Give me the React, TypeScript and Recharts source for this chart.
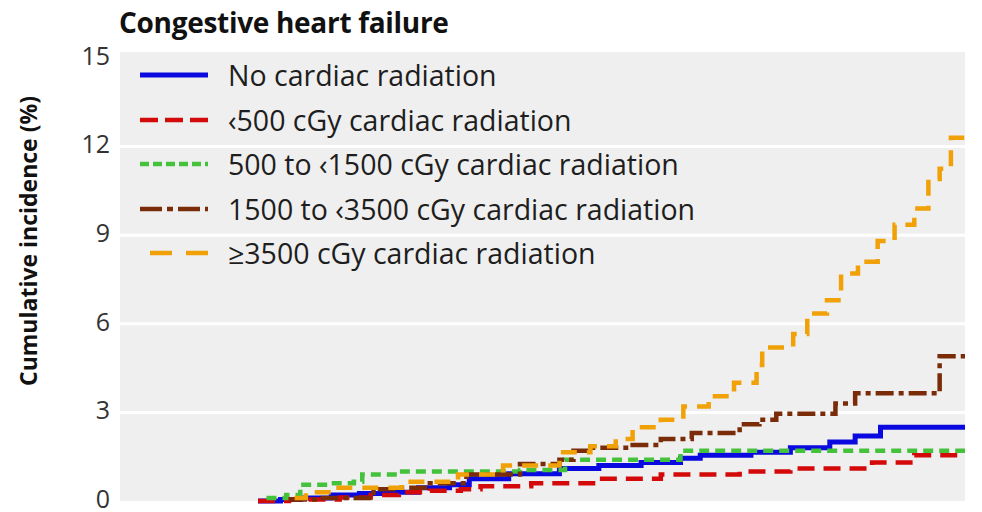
import { LineChart, Line, XAxis, YAxis, CartesianGrid, Label } from "recharts"

// years since diagnosis (x) and cumulative incidence in % (y)
const noRadTimes = [4.9, 5.7, 6.4, 7.5, 8.5, 9.6, 10.6, 11.7, 12.4, 13.8, 15.6, 17.0, 18.5, 19.9, 20.6, 22.4, 23.8, 25.2, 26.1, 27.0, 30]
const noRadValues = [0, 0.05, 0.1, 0.2, 0.25, 0.3, 0.45, 0.55, 0.75, 0.92, 1.1, 1.2, 1.3, 1.45, 1.55, 1.65, 1.8, 2.0, 2.2, 2.5, 2.5]

const lowTimes = [4.9, 6.0, 7.8, 8.9, 9.9, 11.0, 12.1, 12.8, 14.6, 17.0, 19.2, 22.0, 23.8, 26.7, 28.2, 30]
const lowValues = [0, 0.05, 0.12, 0.2, 0.3, 0.35, 0.4, 0.5, 0.6, 0.75, 0.9, 1.0, 1.1, 1.3, 1.55, 1.55]

const midTimes = [5.2, 5.9, 6.4, 7.5, 8.3, 8.6, 9.9, 14.2, 15.8, 19.9, 30]
const midValues = [0.1, 0.2, 0.55, 0.6, 0.65, 0.9, 1.0, 1.05, 1.4, 1.7, 1.7]

const highTimes = [6.0, 7.0, 9.0, 9.9, 11.0, 12.3, 14.2, 15.6, 16.1, 16.7, 18.2, 19.2, 20.3, 22.0, 22.7, 23.3, 25.4, 26.1, 29.1, 30]
const highValues = [0.05, 0.1, 0.4, 0.45, 0.6, 0.9, 1.25, 1.4, 1.7, 1.8, 1.9, 2.1, 2.3, 2.6, 2.75, 2.95, 3.3, 3.65, 4.9, 4.9]

const topTimes = [6.2, 6.6, 7.6, 10.0, 12.0, 13.6, 15.6, 16.7, 17.6, 18.2, 19.2, 20.0, 20.9, 21.8, 22.6, 22.8, 23.9, 24.4, 25.1, 25.6, 26.2, 26.9, 27.5, 28.2, 28.7, 29.1, 29.5, 30]
const topValues = [0.1, 0.3, 0.45, 0.65, 0.9, 1.2, 1.65, 1.85, 2.1, 2.5, 2.75, 3.2, 3.55, 4.0, 4.6, 5.2, 5.65, 6.35, 6.8, 7.7, 8.1, 8.8, 9.35, 9.9, 10.9, 11.25, 12.3, 12.3]

const seriesNames = [
  "No cardiac radiation",
  "\u2039500 cGy cardiac radiation",
  "500 to \u20391500 cGy cardiac radiation",
  "1500 to \u20393500 cGy cardiac radiation",
  "\u22653500 cGy cardiac radiation",
]

const yTicks = [0, 3, 6, 9, 12, 15]
const xTicks = [10, 20]

const zip = (t: number[], v: number[]) => t.map((x, i) => ({ t: x, v: v[i] }))

const series = [
  { name: seriesNames[0], data: zip(noRadTimes, noRadValues), color: "#0a0ae0", dash: undefined, legendDash: undefined, width: 5 },
  { name: seriesNames[1], data: zip(lowTimes, lowValues), color: "#d40a0a", dash: "17 9", legendDash: "18 7", width: 4.5 },
  { name: seriesNames[2], data: zip(midTimes, midValues), color: "#44c23c", dash: "10 6", legendDash: "9 4", width: 4.5 },
  { name: seriesNames[3], data: zip(highTimes, highValues), color: "#7a2c08", dash: "18 5 5 5", legendDash: "22 5 6 5", width: 4.5 },
  { name: seriesNames[4], data: zip(topTimes, topValues), color: "#f0a108", dash: "16 10", legendDash: "22 14", width: 4.5 },
]

const font = "'Open Sans', 'Noto Sans', sans-serif"

// legend sits on top of the plot area, it takes no room from it
const LegendBox = () => (
  <div style={{ position: "absolute", left: 130, top: 53, fontFamily: font, fontSize: 28.5, color: "#1e1e1e" }}>
    {series.map((s, i) => (
      <div key={i} style={{ display: "flex", alignItems: "center", height: 44.5, whiteSpace: "nowrap" }}>
        <svg width={98} height={20}>
          <line
            x1={i === 4 ? 20 : 10}
            x2={78}
            y1={10}
            y2={10}
            stroke={s.color}
            strokeWidth={s.width}
            strokeDasharray={s.legendDash}
          />
        </svg>
        <span>{s.name}</span>
      </div>
    ))}
  </div>
)

const YTitle = () => {
  const cy = 241
  const cx = 28
  return (
    <text
      x={cx}
      y={cy}
      transform={`rotate(-90, ${cx}, ${cy})`}
      textAnchor="middle"
      dominantBaseline="central"
      fontFamily={font}
      fontWeight={700}
      fontSize={23}
      fill="#111"
    >
      Cumulative incidence (%)
    </text>
  )
}

export default function App() {
  return (
    <div style={{ position: "absolute", left: 0, top: 0, width: 982, height: 512, background: "#fff" }}>
      <div
        style={{
          position: "absolute",
          left: 119,
          top: 8,
          lineHeight: "28px",
          fontFamily: font,
          fontWeight: 700,
          fontSize: 28,
          color: "#111",
          letterSpacing: -0.3,
          whiteSpace: "nowrap",
        }}
      >
        Congestive heart failure
      </div>
      <LineChart width={982} height={512} margin={{ top: 52, right: 17, bottom: 11, left: 20 }}>
        <CartesianGrid
          vertical={false}
          horizontalValues={[3, 6, 9, 12]}
          fill="#efefef"
          stroke="#ffffff"
          strokeWidth={3}
        />
        <XAxis
          type="number"
          dataKey="t"
          domain={[0, 30]}
          ticks={xTicks}
          height={0}
          axisLine={false}
          tick={false}
          tickLine={{ stroke: "#ffffff", strokeWidth: 3 }}
          tickSize={-6}
          allowDuplicatedCategory={false}
        />
        <YAxis
          type="number"
          domain={[0, 15.2]}
          ticks={yTicks}
          interval={0}
          width={100}
          axisLine={false}
          tickLine={false}
          tickSize={0}
          tickMargin={10}
          tick={{ fontFamily: font, fontSize: 25, fill: "#333", dy: -2 }}
        >
          <Label content={<YTitle />} />
        </YAxis>
        {series.map((s) => (
          <Line
            key={s.name}
            data={s.data}
            dataKey="v"
            name={s.name}
            type="stepAfter"
            stroke={s.color}
            strokeWidth={s.width}
            strokeDasharray={s.dash}
            dot={false}
            activeDot={false}
            isAnimationActive={false}
          />
        ))}
      </LineChart>
      <LegendBox />
    </div>
  )
}
